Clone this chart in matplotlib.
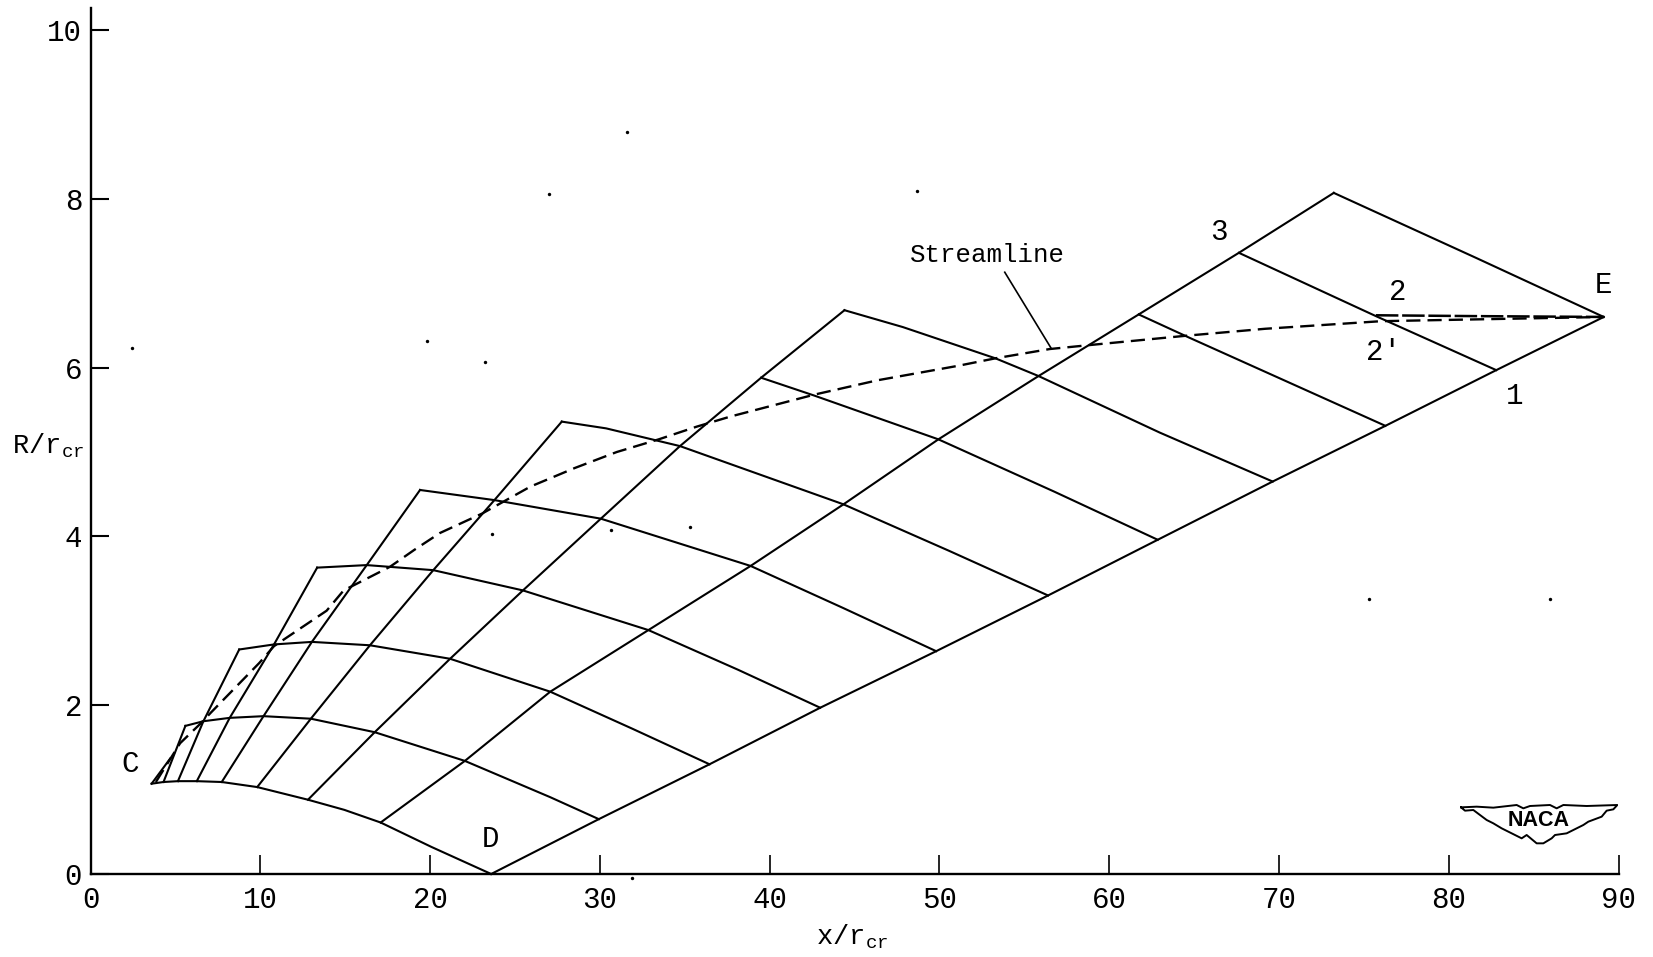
import matplotlib
matplotlib.use("Agg")
import matplotlib.pyplot as plt

plt.rcParams['font.family'] = ['Liberation Mono', 'DejaVu Sans']
plt.rcParams['mathtext.fontset'] = 'custom'
plt.rcParams['mathtext.rm'] = 'Liberation Mono'

x_ticks = [0, 10, 20, 30, 40, 50, 60, 70, 80, 90]
y_ticks = [0, 2, 4, 6, 8, 10]

# Descending characteristics (upper left to line DE)
boundary_CD = [(3.6, 1.07), (4.3, 1.09), (5.15, 1.10), (6.26, 1.10), (7.73, 1.09), (9.82, 1.03), (12.81, .88), (14.95, .76), (17.09, .61), (20.09, .32), (23.6, 0)]
r1 = [(5.59, 1.755), (6.65, 1.81), (8.20, 1.85), (10.19, 1.87), (12.98, 1.84), (16.74, 1.68), (22.05, 1.34), (27.08, .91), (29.94, .65)]
r2 = [(8.76, 2.66), (10.81, 2.72), (13.04, 2.75), (16.46, 2.71), (21.18, 2.55), (27.08, 2.16), (31.93, 1.72), (36.46, 1.30)]
r3 = [(13.35, 3.63), (16.27, 3.66), (20.19, 3.60), (25.47, 3.36), (32.86, 2.89), (38.14, 2.42), (42.98, 1.97)]
r4 = [(19.41, 4.55), (23.79, 4.43), (30.06, 4.21), (38.88, 3.65), (44.35, 3.15), (49.81, 2.64)]
r5 = [(27.76, 5.36), (30.37, 5.28), (34.72, 5.07), (44.35, 4.38), (50.56, 3.83), (56.40, 3.30)]
r6 = [(39.50, 5.88), (42.61, 5.67), (49.94, 5.15), (56.77, 4.53), (62.86, 3.96)]
r7 = [(44.41, 6.68), (47.85, 6.48), (53.30, 6.11), (55.84, 5.90), (62.98, 5.23), (69.63, 4.65)]
r8 = [(61.74, 6.63), (64.66, 6.36), (76.27, 5.31)]
r9 = [(67.64, 7.36), (75.71, 6.61), (82.80, 5.97)]
r10 = [(73.23, 8.07), (81.61, 7.30), (89.13, 6.60)]

# Rising characteristics (lower left to upper right)
b0 = [(3.6, 1.07), (4.7, 1.37)]
b0b = [(4.30, 1.09), (5.59, 1.755)]
b1 = [(5.15, 1.10), (6.65, 1.81), (8.76, 2.66)]
b2 = [(6.26, 1.10), (8.20, 1.85), (10.81, 2.72), (13.35, 3.63)]
b3 = [(7.73, 1.09), (10.19, 1.87), (13.04, 2.75), (16.27, 3.66), (19.41, 4.55)]
b4 = [(9.82, 1.03), (12.98, 1.84), (16.46, 2.71), (20.19, 3.60), (23.79, 4.43), (27.76, 5.36)]
b5 = [(12.81, .88), (16.74, 1.68), (21.18, 2.55), (25.47, 3.36), (30.06, 4.21), (34.72, 5.07), (39.50, 5.88), (44.41, 6.68)]
b6 = [(17.09, .61), (22.05, 1.34), (27.08, 2.16), (32.86, 2.89), (38.88, 3.65), (44.35, 4.38), (49.94, 5.15), (55.84, 5.90), (61.74, 6.63), (67.64, 7.36), (73.23, 8.07)]
line_DE = [(23.6, 0), (29.94, .65), (36.46, 1.30), (42.98, 1.97), (49.81, 2.64), (56.40, 3.30), (62.86, 3.96), (69.63, 4.65), (76.27, 5.31), (82.80, 5.97), (89.13, 6.60)]

streamline = [(3.85, 1.09), (4.72, 1.37), (5.28, 1.55), (6.52, 1.79), (7.08, 1.91), (9.94, 2.50), (10.81, 2.70), (13.91, 3.12), (14.91, 3.36), (17.64, 3.64), (19.07, 3.84), (20.58, 4.04), (23.06, 4.27), (25.91, 4.59), (28.52, 4.81), (31.0, 5.0), (33.47, 5.15), (35.7, 5.30), (37.69, 5.42), (42.64, 5.68), (46.36, 5.85), (51.07, 6.02), (53.3, 6.11), (56.5, 6.22), (59.0, 6.27), (64.66, 6.38), (69.19, 6.46), (76.02, 6.55), (89.13, 6.60)]
streamline_upper = [(75.71, 6.62), (81.61, 6.61), (89.13, 6.60)]
leader = [(53.85, 7.13), (56.58, 6.23)]

point_labels = [("C", 2.36, 1.30), ("D", 23.54, .41), ("E", 89.13, 6.98), ("3", 66.46, 7.61),
                ("2", 77.02, 6.90), ("2'", 76.15, 6.18), ("1", 83.91, 5.66)]
streamline_label = ("Streamline", 52.86, 7.33)
specks = [(27.02, 8.06), (2.42, 6.23), (19.81, 6.31), (23.66, 4.03), (75.28, 3.26), (31.61, 8.79), (48.70, 8.09),
          (23.23, 6.07), (35.34, 4.11), (30.68, 4.07), (31.9, -.05), (85.96, 3.26)]

logo_x = [243, 290, 340, 410, 430, 450, 510, 530, 550, 620, 712, 700, 680, 665, 625, 610, 580, 560, 525, 515, 490, 470, 440, 425, 405, 385, 365, 340, 320, 300, 280, 255, 243]
logo_y = [82, 80, 83, 75, 85, 78, 75, 85, 75, 78, 75, 88, 92, 110, 125, 135, 150, 160, 165, 175, 190, 190, 165, 175, 165, 155, 145, 130, 120, 105, 90, 92, 82]

W, H = 1653, 957
fig = plt.figure(figsize=(W / 100, H / 100), dpi=100, facecolor='white')
ax = fig.add_axes([90.5 / W, 1 - 874 / H, 1528 / W, (874 - 8) / H])
ax.set_xlim(0, 90)
ax.set_ylim(0, 866 / 84.4)
for side in ('top', 'right'):
    ax.spines[side].set_visible(False)
for side in ('left', 'bottom'):
    ax.spines[side].set_linewidth(1.7)

ax.set_xticks(x_ticks)
ax.set_yticks(y_ticks)
ax.tick_params(axis='x', direction='in', length=13.5, width=1.2, labelsize=21, pad=9)
ax.tick_params(axis='y', direction='in', length=13, width=1.5, labelsize=21, pad=6)

curves = [boundary_CD, r1, r2, r3, r4, r5, r6, r7, r8, r9, r10,
          b0, b0b, b1, b2, b3, b4, b5, b6, line_DE]
for c in curves:
    ax.plot([p[0] for p in c], [p[1] for p in c], color='black', lw=1.5, solid_joinstyle='round', clip_on=False)

ax.plot([p[0] for p in streamline], [p[1] for p in streamline], color='black', lw=1.7, dashes=(6, 3))
ax.plot([p[0] for p in streamline_upper], [p[1] for p in streamline_upper], color='black', lw=1.8, dashes=(9, 1.5))
ax.plot([p[0] for p in leader], [p[1] for p in leader], color='black', lw=1.2)

for s, x, y in point_labels:
    ax.text(x, y, s, fontsize=21, ha='center', va='center', color='black')
ax.text(streamline_label[1], streamline_label[2], streamline_label[0], fontsize=18.5, ha='center', va='center', color='black')

ax.text(-2.48, 5.07, r"R/r$_{\mathrm{cr}}$", fontsize=19.5, ha='center', va='center', clip_on=False)
ax.text(44.84, -0.74, r"x/r$_{\mathrm{cr}}$", fontsize=19.5, ha='center', va='center', clip_on=False)

ax.scatter([p[0] for p in specks], [p[1] for p in specks], s=6, color='black', linewidths=0, clip_on=False)

logo = fig.add_axes([1460 / W, 1 - 845 / H, (475 / 3) / W, (125 / 3) / H])
logo.set_xlim(240, 715)
logo.set_ylim(195, 70)
logo.axis('off')
logo.plot(logo_x, logo_y, color='black', lw=1.4)
logo.text(475, 122, "NACA", family='Liberation Sans', fontsize=15.5, fontweight='bold', ha='center', va='center', color='black')

fig.savefig('out.png', dpi=100, facecolor='white')
